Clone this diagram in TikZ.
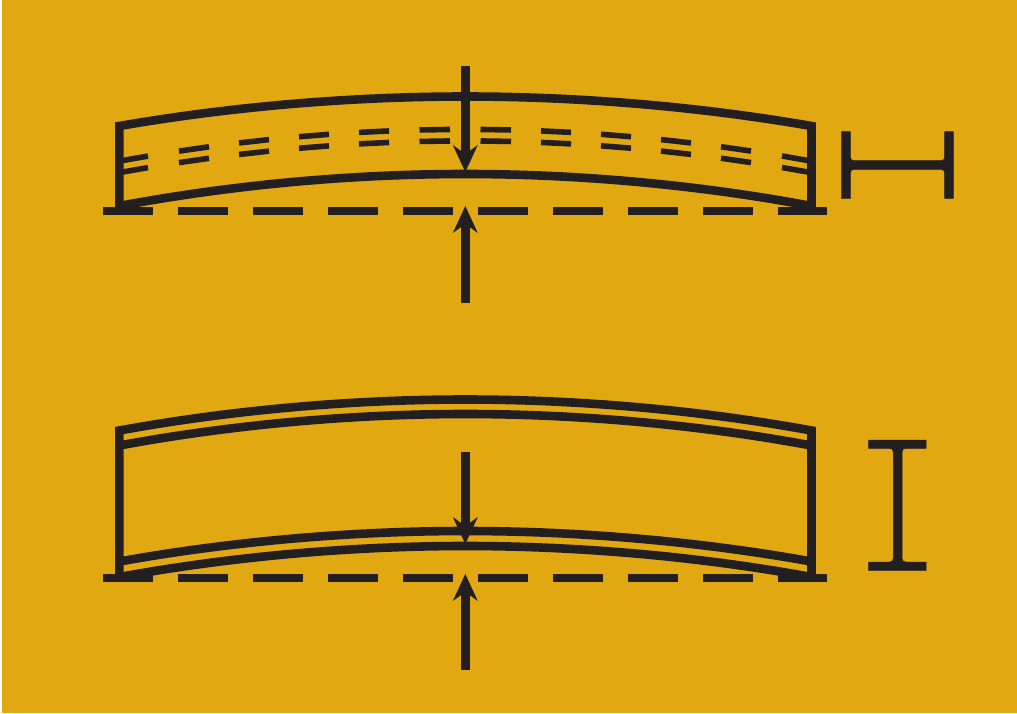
\documentclass[tikz,border=0pt]{standalone}
\usetikzlibrary{arrows.meta}
\definecolor{bgochre}{HTML}{E1A812}
\definecolor{inkdark}{HTML}{231F20}
\tikzset{
  beamline/.style={draw=inkdark,line width=8.6pt,line join=miter,miter limit=20},
  groundline/.style={draw=inkdark,line width=8.6pt,dash pattern=on 50pt off 25pt},
  midstroke/.style={draw=inkdark,line width=5.6pt},
  forcearrow/.style={draw=inkdark,line width=8.6pt,-{Stealth[length=27pt,width=25pt,inset=9pt,line width=0pt]}},
  iconfill/.style={fill=inkdark,draw=inkdark,line width=0.5pt}
}
\begin{document}
\begin{tikzpicture}[x=1pt,y=-1pt]
\useasboundingbox (0,0) rectangle (1017,713);
\fill[white] (0,0) rectangle (1017,713);
\fill[bgochre] (2,0) rectangle (1017,713);
% upper beam
\draw[beamline] (119.3,207) -- (119.3,126) parabola bend (465.3,96.5) (811.5,126) -- (811.5,207);
\draw[beamline] (119.3,206) parabola bend (465.3,174) (811.5,206);
\foreach \xa/\xb in {119/148,179/209,239/269,299/329,359/389,419.5/450,480.5/511,541/571,601/631,661/691,721/751,782/811}{
  \pgfmathsetmacro{\ya}{129.4+2.65*((\xa-465.3)/100)^2}
  \pgfmathsetmacro{\yb}{129.4+2.65*((\xb-465.3)/100)^2}
  \draw[midstroke] (\xa,\ya) -- (\xb,\yb);
  \draw[midstroke] (\xa,\ya+11.5) -- (\xb,\yb+11.5);
}
\draw[groundline] (103.3,211) -- (827,211);
\coordinate (a1s) at (465.3,66);
\coordinate (a1e) at (465.3,172);
\coordinate (a2s) at (465.3,303);
\coordinate (a2e) at (465.3,206);
\draw[forcearrow] (a1s) -- (a1e);
\draw[forcearrow] (a2s) -- (a2e);
% H section
\fill[iconfill] (841.7,131.7) -- (850.3,131.7) -- (850.3,156.7) .. controls (850.3,159.5) and (851.5,160.7) .. (854.3,160.7)
  -- (940.7,160.7) .. controls (943.5,160.7) and (944.7,159.5) .. (944.7,156.7) -- (944.7,131.7) -- (953.3,131.7) -- (953.3,198.3) -- (944.7,198.3)
  -- (944.7,173.3) .. controls (944.7,170.5) and (943.5,169.3) .. (940.7,169.3) -- (854.3,169.3) .. controls (851.5,169.3) and (850.3,170.5) .. (850.3,173.3)
  -- (850.3,198.3) -- (841.7,198.3) -- cycle;
% lower beam
\draw[beamline] (119.3,578) -- (119.3,430.5) parabola bend (465.3,399.5) (811.5,430.5) -- (811.5,578);
\draw[beamline] (119.3,445.5) parabola bend (465.3,414) (811.5,445.5);
\draw[beamline] (119.3,561.5) parabola bend (465.3,531) (811.5,561.5);
\draw[beamline] (119.3,577) parabola bend (465.3,546) (811.5,577);
\draw[groundline] (103.3,578) -- (827,578);
\coordinate (b1s) at (465.3,452);
\coordinate (b1e) at (465.3,544);
\coordinate (b2s) at (465.3,670);
\coordinate (b2e) at (465.3,574);
\draw[forcearrow] (b1s) -- (b1e);
\draw[forcearrow] (b2s) -- (b2e);
% I section
\fill[iconfill] (868.7,440) -- (926,440) -- (926,448.3) -- (906,448.3) .. controls (903.2,448.3) and (902,449.5) .. (902,452.3)
  -- (902,558) .. controls (902,560.8) and (903.2,562) .. (906,562) -- (926,562) -- (926,570.3) -- (868.7,570.3) -- (868.7,562) -- (889.3,562)
  .. controls (892.1,562) and (893.3,560.8) .. (893.3,558) -- (893.3,452.3) .. controls (893.3,449.5) and (892.1,448.3) .. (889.3,448.3) -- (868.7,448.3) -- cycle;
\end{tikzpicture}
\end{document}
